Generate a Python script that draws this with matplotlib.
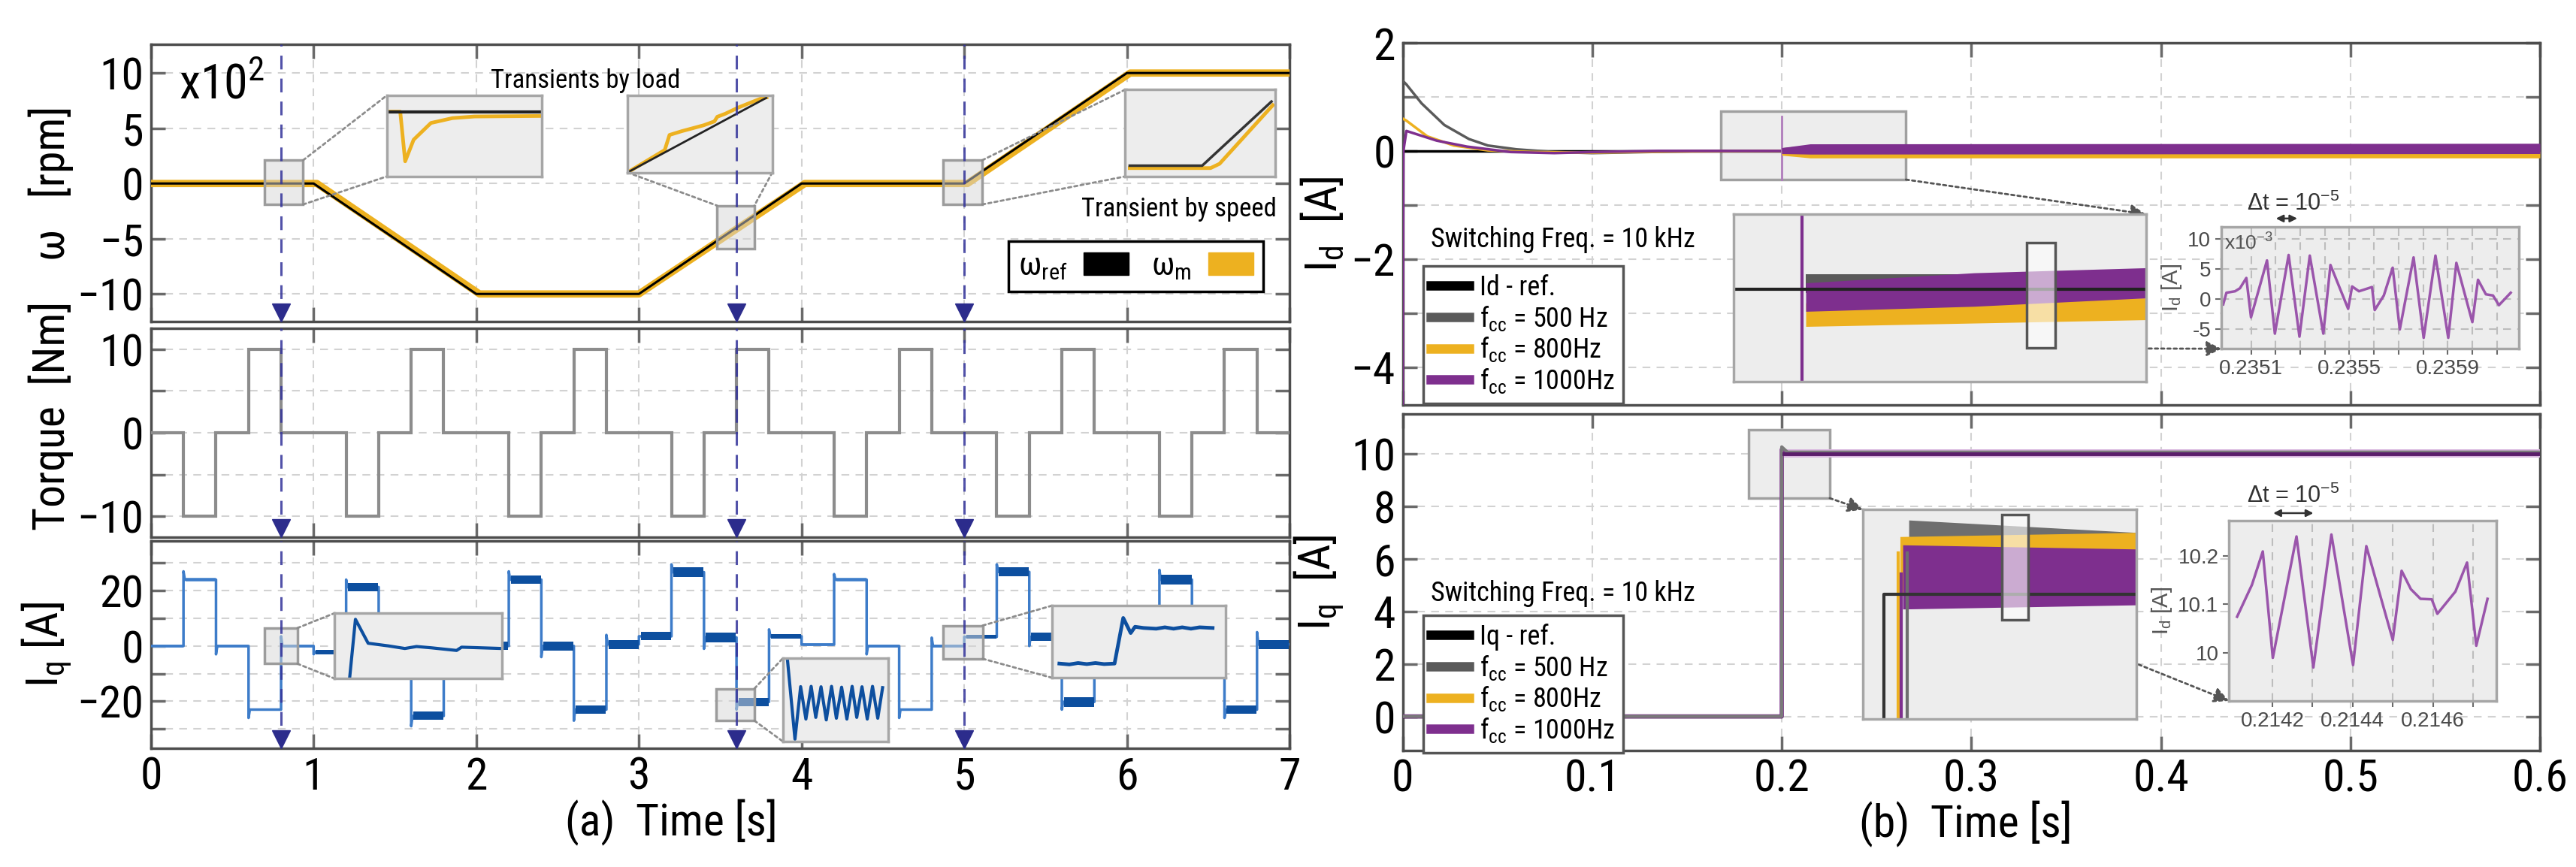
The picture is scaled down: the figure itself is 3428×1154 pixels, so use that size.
import numpy as np
import matplotlib
matplotlib.use("Agg")
import matplotlib.pyplot as plt
from matplotlib import font_manager
from matplotlib.patches import Rectangle, Patch
from matplotlib.lines import Line2D
from matplotlib.transforms import blended_transform_factory

names = {f.name for f in font_manager.fontManager.ttflist}
narrow = [n for n in ("Liberation Sans Narrow", "Roboto Condensed", "Open Sans Condensed", "Arial Narrow")
          if n in names]
if narrow:
    plt.rcParams["font.family"] = [narrow[0], "DejaVu Sans"]
    FS = 43
else:
    plt.rcParams["font.family"] = ["Liberation Sans", "DejaVu Sans"]
    FS = 38
plt.rcParams["mathtext.default"] = "regular"
SMALL = ["Liberation Sans", "DejaVu Sans"]

YEL, PUR, GRY = "#EDB120", "#7E2F8E", "#5a5a5a"
BLU, DBLU, LBLU = "#3d7cc9", "#0d4f9f", "#7aa8dc"
NAVY = "#34349a"

# ---------------- (a) speed / load torque / Iq, 0..7 s ----------------
w_t = [0, 1, 2, 3, 4, 5, 6, 7]
w_ref = [0, 0, -10, -10, 0, 0, 10, 10]          # x10^2 rpm
w_m_t = [0, 1.02, 2.02, 3.0, 4.02, 5.02, 6.02, 7]
w_m = [0, 0, -10, -10, 0, 0, 10, 10]

seg_t = [0.0, 0.2, 0.4, 0.6, 0.8, 1.0, 1.2, 1.4, 1.6, 1.8, 2.0, 2.2, 2.4, 2.6, 2.8,
         3.0, 3.2, 3.4, 3.6, 3.8, 4.0, 4.2, 4.4, 4.6, 4.8, 5.0, 5.2, 5.4, 5.6, 5.8,
         6.0, 6.2, 6.4, 6.6, 6.8, 7.0]
torque = [0, -10, 0, 10, 0, 0, -10, 0, 10, 0, 0, -10, 0, 10, 0, 0, -10, 0, 10, 0,
          0, -10, 0, 10, 0, 0, -10, 0, 10, 0, 0, -10, 0, 10, 0]
iq_level = [0, 24, 0, -23, 0, -2.2, 21.3, -2.5, -25.3, -2.5, 0, 24, 0, -23, 0.6,
            3.5, 26.7, 3.1, -20.2, 3.5, 0.5, 24, 0, -23, 0, 3.3, 26.8, 3.3, -20.2, 3.3,
            0, 24, 0, -23, 0.6]
iq_peak = [0, 27, -3, -26, 3.5, -3, 24, -5, -29, 1, 0, 27, -4, -27, 4,
           3.5, 29.5, -1, -23, 6, 0.5, 26, -3, -26, 3, 3.3, 29.5, 0, -23, 6,
           0, 27.5, -3, -26, 5]
iq_ripple = [1.0, 1.3, 1.0, 1.0, 1.0, 1.5, 3.0, 3.0, 3.0, 3.0, 3.0, 3.2, 3.2, 3.2, 3.2,
             3.0, 3.5, 3.5, 3.0, 1.5, 1.0, 1.3, 1.0, 1.0, 1.0, 1.5, 3.2, 3.0, 3.5, 3.0,
             3.0, 3.5, 3.0, 3.0, 3.2]
events = [0.8, 3.6, 5.0]

# zoomed details of (a)
z1_ref_t, z1_ref = [0.796, 0.84], [0, 0]
z1_t = [0.796, 0.7998, 0.8012, 0.8036, 0.8085, 0.8146, 0.8208, 0.84]
z1_w = [0.0, 0.0, -0.46, -0.26, -0.105, -0.06, -0.045, -0.04]
z2_ref_t, z2_ref = [3.55, 3.6458], [-4.5, -3.536]
z2_t = [3.55, 3.5757, 3.579, 3.5875, 3.6026, 3.61, 3.612, 3.6176, 3.6266, 3.642, 3.646]
z2_w = [-4.5, -4.21, -4.015, -3.966, -3.89, -3.84, -3.78, -3.74, -3.66, -3.545, -3.53]
z3_ref_t, z3_ref = [4.953, 5.0014, 5.0477], [0, 0, 0.477]
z3_t = [4.953, 5.007, 5.013, 5.0486]
z3_w = [-0.018, -0.018, 0.014, 0.45]
zA_t = [0.799, 0.8024, 0.81, 0.822, 0.832, 0.839, 0.848, 0.863, 0.866, 0.89]
zA_i = [-5.28, 5.22, 0.84, 0.36, -0.12, 0.24, 0.0, -0.48, 0.12, -0.12]
zB_t = [3.592, 3.5956, 3.5983, 3.6008, 3.6033, 3.6055, 3.608, 3.6105, 3.613, 3.6153,
        3.6178, 3.6203, 3.6228, 3.625, 3.6275, 3.63, 3.6325, 3.635, 3.6373]
zB_i = [-5.45, -34.1, -15.3, -26.9, -15.2, -26.3, -15.35, -27.2, -15.2, -26.6,
        -15.5, -26.9, -15.2, -26.3, -15.35, -26.9, -15.2, -26.6, -15.65]
zC_t = [4.9742, 4.98, 4.985, 4.99, 4.995, 5.0, 5.006, 5.011, 5.0153, 5.0178, 5.0227,
        5.03, 5.035, 5.04, 5.045, 5.05, 5.055, 5.0625]
zC_i = [0.0, -0.08, 0.05, -0.05, 0.05, -0.05, 0.0, 4.23, 2.83, 3.41, 3.3,
        3.23, 3.36, 3.23, 3.36, 3.23, 3.36, 3.3]

# ---------------- (b) Id / Iq, 0..0.6 s ----------------
id_ref_t, id_ref = [0, 0.6], [0, 0]
id_500_t = [0, 0.002, 0.01, 0.022, 0.035, 0.045, 0.06, 0.08, 0.1, 0.13, 0.16, 0.2]
id_500 = [1.3, 1.23, 0.88, 0.48, 0.22, 0.1, 0.03, -0.02, -0.04, -0.02, 0.0, 0.0]
id_800_t = [0, 0.002, 0.013, 0.027, 0.045, 0.068, 0.1, 0.14, 0.2]
id_800 = [0.6, 0.56, 0.27, 0.1, 0.01, -0.02, -0.03, -0.01, 0.0]
id_1000_t = [0, 0.0004, 0.002, 0.018, 0.034, 0.057, 0.08, 0.1, 0.135, 0.2]
id_1000 = [-4.8, 0.0, 0.37, 0.19, 0.08, -0.02, -0.04, -0.02, 0.0, 0.0]
id_spike_t, id_spike = [0.2, 0.2], [0.64, -0.53]
id_band_t = [0.2, 0.215, 0.6]
id_500_lo, id_500_hi = [-0.02, -0.02, -0.02], [0.06, 0.11, 0.12]
id_800_lo, id_800_hi = [-0.08, -0.13, -0.13], [0.0, 0.0, -0.01]
id_1000_lo, id_1000_hi = [-0.05, -0.06, -0.05], [0.06, 0.13, 0.14]

zd_t = [0.2005, 0.225, 0.25]
zd_500_lo, zd_500_hi = [-0.02, -0.02, -0.02], [0.09, 0.09, 0.09]
zd_800_lo, zd_800_hi = [-0.22, -0.2, -0.18], [-0.08, -0.06, -0.05]
zd_1000_lo, zd_1000_hi = [-0.13, -0.1, -0.05], [0.04, 0.1, 0.13]

fd_t = [0.234987, 0.235000, 0.235035, 0.235055, 0.235081, 0.235100, 0.235165, 0.235197,
        0.235253, 0.235297, 0.235339, 0.235394, 0.235423, 0.235495, 0.235511, 0.235539,
        0.235592, 0.235603, 0.235640, 0.235676, 0.235705, 0.235761, 0.235802, 0.235850,
        0.235902, 0.235935, 0.236000, 0.236023, 0.236055, 0.236084, 0.236108, 0.236156]
fd_i = [-0.87, 1.06, 1.3, 1.8, 3.5, -3.0, 6.4, -5.7, 7.3, -6.2, 7.2, -5.7, 5.65, -1.6,
        2.1, 1.3, 2.0, -1.8, 0.6, 5.2, -5.0, 6.9, -6.4, 7.2, -6.4, 6.0, -3.8, 3.2,
        0.8, 0.6, -1.0, 1.06]                     # x10^-3 A
fd_xticks = [0.2351, 0.2352, 0.2353, 0.2354, 0.2355, 0.2356, 0.2357, 0.2358, 0.2359, 0.2360, 0.2361]
fd_xlabels = ["0.2351", "", "", "", "0.2355", "", "", "", "0.2359", "", ""]

iq_ref_t, iq_ref = [0, 0.2, 0.2, 0.6], [0, 0, 10, 10]
iq_c_t = [0, 0.2, 0.2, 0.203, 0.6]
iq_500 = [0, 0, 10.25, 10.05, 10.05]
iq_800 = [0, 0, 10.2, 10.0, 10.0]
iq_1000 = [0, 0, 10.15, 10.0, 10.0]
iq_band_t, iq_band_lo, iq_band_hi = [0.201, 0.6], [9.85, 9.85], [10.15, 10.15]

zq_ref_t, zq_ref = [0.19962, 0.2, 0.2, 0.20462], [0, 0, 10, 10]
zq_500_t, zq_500 = [0.19962, 0.20043, 0.20043], [0, 0, 10.2]
zq_800_t, zq_800 = [0.19962, 0.20027, 0.20027], [0, 0, 10.2]
zq_1000_t, zq_1000 = [0.19962, 0.20032, 0.20032], [0, 0, 10.1]
zq_b500_t, zq_b500_lo, zq_b500_hi = [0.20046, 0.20462], [10.05, 10.05], [10.36, 10.3]
zq_b800_t, zq_b800_lo, zq_b800_hi = [0.2003, 0.20462], [10.0, 10.02], [10.28, 10.3]
zq_b1000_t, zq_b1000_lo, zq_b1000_hi = [0.20035, 0.20462], [9.93, 9.95], [10.24, 10.22]

fq_t = [0.214112, 0.214149, 0.214176, 0.214201, 0.214260, 0.214302, 0.214347, 0.214401,
        0.214434, 0.214470, 0.214500, 0.214522, 0.214545, 0.214569, 0.214597, 0.214611,
        0.214656, 0.214685, 0.214708, 0.214736]
fq_i = [10.074, 10.14, 10.209, 9.989, 10.24, 9.969, 10.244, 9.974, 10.22, 10.114,
        10.026, 10.169, 10.131, 10.111, 10.11, 10.08, 10.126, 10.186, 10.014, 10.111]
fq_xticks = [0.2142, 0.2143, 0.2144, 0.2145, 0.2146, 0.2147]
fq_xlabels = ["0.2142", "", "0.2144", "", "0.2146", ""]


def frame(ax):
    ax.grid(True, ls=(0, (5, 4)), color="#d2d2d2", lw=1.5)
    ax.tick_params(direction="in", length=14, width=2.5, color="#6a6a6a",
                   labelsize=FS, top=True, right=True, pad=7)
    for s in ax.spines.values():
        s.set_color("#4d4d4d")
        s.set_linewidth(2.5)
    ax.set_axisbelow(True)


def inset(ax, bounds):
    ia = ax.inset_axes(bounds, transform=ax.transData, zorder=8)
    ia.set_facecolor("#ededed")
    ia.set_xticks([])
    ia.set_yticks([])
    for s in ia.spines.values():
        s.set_color("#a6a6a6")
        s.set_linewidth(2.5)
    return ia


def zoom_box(ax, x, y, w, h, front=True):
    if front:
        ax.add_patch(Rectangle((x, y), w, h, fc=(0.84, 0.84, 0.84, 0.5), ec="#9c9c9c", lw=2.5, zorder=7))
    else:
        ax.add_patch(Rectangle((x, y), w, h, fc="#ededed", ec="#a0a0a0", lw=2.5, zorder=1))


def link(ax, p, q, head=False):
    ax.annotate("", xy=q, xytext=p, xycoords="data", textcoords="data",
                arrowprops=dict(arrowstyle="-|>" if head else "-", ls=(0, (1.5, 1.5)), lw=2,
                                color="#555555" if head else "#8c8c8c", shrinkA=0, shrinkB=0,
                                mutation_scale=30),
                annotation_clip=False, zorder=7)


def highlight(ia, x, y, w, h):
    ia.add_patch(Rectangle((x, y), w, h, transform=ia.transAxes, fc=(1, 1, 1, 0.6),
                           ec="#555555", lw=2.5, zorder=10))


fig = plt.figure(figsize=(34.28, 11.54), dpi=100)
L, W = 0.0586, 0.4420
ax_w = fig.add_axes([L, 0.6291, W, 0.3198])
ax_tq = fig.add_axes([L, 0.3804, W, 0.2409])
ax_iq = fig.add_axes([L, 0.1369, W, 0.2392])
ax_d = fig.add_axes([0.5445, 0.5329, 0.4415, 0.4177])
ax_q = fig.add_axes([0.5445, 0.1343, 0.4415, 0.3882])

for ax in (ax_w, ax_tq, ax_iq):
    frame(ax)
    ax.set_xlim(0, 7)
    ax.set_xticks(w_t)
for ax in (ax_w, ax_tq):
    ax.tick_params(labelbottom=False)

# ---- speed ----
ax_w.plot(w_m_t, w_m, color=YEL, lw=7, zorder=3)
ax_w.plot(w_t, w_ref, color="black", lw=2.2, zorder=4)
ax_w.set_ylim(-12.5, 12.6)
ax_w.set_yticks([-10, -5, 0, 5, 10])
ax_w.set_ylabel("ω   [rpm]", fontsize=FS)
ax_w.text(0.17, 8.9, "x10$^2$", fontsize=FS + 3, va="center")
ax_w.text(2.67, 9.3, "Transients by load", fontsize=25, ha="center", va="center")
ax_w.text(6.92, -2.3, "Transient by speed", fontsize=25, ha="right", va="center")

zoom_box(ax_w, 0.70, -1.9, 0.235, 4.0)
i1 = inset(ax_w, [1.45, 0.64, 0.955, 7.33])
i1.plot(z1_t, z1_w, color=YEL, lw=3.5)
i1.plot(z1_ref_t, z1_ref, color="#222222", lw=3)
i1.set_xlim(0.796, 0.84)
i1.set_ylim(-0.6, 0.15)
link(ax_w, (0.935, 2.1), (1.45, 7.97))
link(ax_w, (0.935, -1.9), (1.45, 0.64))

zoom_box(ax_w, 3.48, -5.9, 0.23, 3.9)
i2 = inset(ax_w, [2.93, 1.0, 0.89, 7.0])
i2.plot(z2_t, z2_w, color=YEL, lw=3.5)
i2.plot(z2_ref_t, z2_ref, color="#222222", lw=2)
i2.set_xlim(3.55, 3.65)
i2.set_ylim(-4.5, -3.5)
link(ax_w, (2.93, 1.0), (3.48, -2.0))
link(ax_w, (3.82, 1.0), (3.71, -2.0))

zoom_box(ax_w, 4.87, -1.9, 0.24, 4.0)
i3 = inset(ax_w, [5.99, 0.64, 0.92, 7.86])
i3.plot(z3_t, z3_w, color=YEL, lw=3.5)
i3.plot(z3_ref_t, z3_ref, color="#333333", lw=2.5)
i3.set_xlim(4.95, 5.05)
i3.set_ylim(-0.08, 0.566)
link(ax_w, (5.11, 2.1), (5.99, 8.5))
link(ax_w, (5.11, -1.9), (5.99, 0.64))

leg = ax_w.legend([Patch(fc="black", ec="black"), Patch(fc=YEL, ec=YEL)],
                  [r"$\omega_{ref}$", r"$\omega_{m}$"], ncol=2, markerfirst=False,
                  loc="center", bbox_to_anchor=(6.055, -7.48), bbox_transform=ax_w.transData,
                  fontsize=31, fancybox=False, edgecolor="black", framealpha=1,
                  handlelength=1.4, handleheight=0.7, columnspacing=0.7,
                  handletextpad=0.5, borderpad=0.3)
leg.get_frame().set_linewidth(2.5)
leg.set_zorder(12)

# ---- torque ----
ax_tq.stairs(torque, seg_t, color="#8c8c8c", lw=3, baseline=None, zorder=3)
ax_tq.set_ylim(-12.5, 12.5)
ax_tq.set_yticks([-10, -5, 0, 5, 10])
ax_tq.set_yticklabels(["−10", "", "0", "", "10"])
ax_tq.set_ylabel("Torque  [Nm]", fontsize=FS)

# ---- Iq ----
xs, ys = [seg_t[0]], [iq_level[0]]
for i in range(len(iq_level)):
    t0 = seg_t[i]
    prev = iq_level[i - 1] if i else iq_level[0]
    xs += [t0, t0, t0 + 0.008]
    ys += [prev, iq_peak[i], iq_level[i]]
xs.append(seg_t[-1])
ys.append(iq_level[-1])
ax_iq.plot(xs, ys, color=BLU, lw=2.5, zorder=3)
for i, r in enumerate(iq_ripple):
    dark = r >= 1.5
    ax_iq.fill_between([seg_t[i] + 0.012, seg_t[i + 1] - 0.003],
                       iq_level[i] - r / 2, iq_level[i] + r / 2,
                       color=DBLU if dark else LBLU, lw=0, zorder=4 if dark else 2)
ax_iq.set_ylim(-37, 38)
ax_iq.set_yticks([-30, -20, -10, 0, 10, 20, 30])
ax_iq.set_yticklabels(["", "−20", "", "0", "", "20", ""])
ax_iq.set_ylabel("$I_q$ [A]", fontsize=FS)
ax_iq.set_xlabel("(a)  Time [s]", fontsize=FS)

zoom_box(ax_iq, 0.70, -6.4, 0.20, 12.9)
iA = inset(ax_iq, [1.13, -11.8, 1.026, 23.7])
iA.plot(zA_t, zA_i, color=DBLU, lw=3)
iA.set_xlim(0.79, 0.89)
iA.set_ylim(-5.64, 6.36)
link(ax_iq, (0.90, 6.5), (1.13, 11.9))
link(ax_iq, (0.90, -6.4), (1.13, -11.8))

zoom_box(ax_iq, 3.475, -27, 0.235, 11.6)
iB = inset(ax_iq, [3.887, -34.6, 0.646, 30.3])
iB.plot(zB_t, zB_i, color=DBLU, lw=3)
iB.set_xlim(3.59, 3.64)
iB.set_ylim(-35, -5)
link(ax_iq, (3.71, -15.4), (3.887, -4.3))
link(ax_iq, (3.71, -27), (3.887, -34.6))

zoom_box(ax_iq, 4.87, -4.6, 0.243, 12.0)
iC = inset(ax_iq, [5.54, -11.5, 1.067, 26.1])
iC.plot(zC_t, zC_i, color=DBLU, lw=3.5)
iC.set_xlim(4.97, 5.07)
iC.set_ylim(-1.32, 5.37)
link(ax_iq, (5.113, 7.4), (5.54, 14.6))
link(ax_iq, (5.113, -4.6), (5.54, -11.5))

for ax in (ax_w, ax_tq, ax_iq):
    tr = blended_transform_factory(ax.transData, ax.transAxes)
    hpx = ax.get_position().height * 1154
    for t in events:
        ax.axvline(t, color=NAVY, ls=(0, (6, 4)), lw=2.2, zorder=9, alpha=0.85)
        ax.plot([t], [12 / hpx], marker="v", ms=17, color="#2c2c8c",
                transform=tr, clip_on=False, zorder=10)

ax_w.yaxis.set_label_coords(-0.068, 0.5)
ax_tq.yaxis.set_label_coords(-0.068, 0.58)
ax_iq.yaxis.set_label_coords(-0.068, 0.5)
ax_iq.xaxis.set_label_coords(0.457, -0.245)

# ---------------- (b) ----------------
cc_labels = ["$f_{cc}$ = 500 Hz", "$f_{cc}$ = 800Hz", "$f_{cc}$ = 1000Hz"]
handles = [Line2D([], [], color=c, lw=9) for c in ("black", GRY, YEL, PUR)]

for ax in (ax_d, ax_q):
    frame(ax)
    ax.set_xlim(0, 0.6)
    ax.set_xticks([0, 0.1, 0.2, 0.3, 0.4, 0.5, 0.6])
ax_d.tick_params(labelbottom=False)
ax_q.set_xticklabels(["0", "0.1", "0.2", "0.3", "0.4", "0.5", "0.6"])

# ---- Id ----
ax_d.plot(id_ref_t, id_ref, color="black", lw=2.5, zorder=3)
ax_d.plot(id_500_t, id_500, color=GRY, lw=2.5, zorder=4)
ax_d.plot(id_800_t, id_800, color=YEL, lw=2.5, zorder=4)
ax_d.plot(id_1000_t, id_1000, color=PUR, lw=2.5, zorder=4)
ax_d.plot(id_spike_t, id_spike, color="#b07cbb", lw=2, zorder=4)
ax_d.fill_between(id_band_t, id_500_lo, id_500_hi, color=GRY, lw=0, zorder=4)
ax_d.fill_between(id_band_t, id_800_lo, id_800_hi, color=YEL, lw=0, zorder=4)
ax_d.fill_between(id_band_t, id_1000_lo, id_1000_hi, color=PUR, lw=0, zorder=5)
ax_d.set_ylim(-4.7, 2.0)
ax_d.set_yticks([-4, -3, -2, -1, 0, 1, 2])
ax_d.set_yticklabels(["−4", "", "−2", "", "0", "", "2"])
ax_d.set_ylabel("$I_d$  [A]", fontsize=FS)
ax_d.text(0.015, -1.64, "Switching Freq. = 10 kHz", fontsize=26, va="center")
lg = ax_d.legend(handles, ["Id - ref."] + cc_labels, loc="upper left",
                 bbox_to_anchor=(0.0107, -2.13), bbox_transform=ax_d.transData,
                 borderaxespad=0, fontsize=26, fancybox=False, edgecolor="#555555",
                 framealpha=1, handlelength=1.4, labelspacing=0.1, borderpad=0.3,
                 handletextpad=0.4)
lg.get_frame().set_linewidth(2.5)

zoom_box(ax_d, 0.168, -0.53, 0.0975, 1.27, front=False)
iD = inset(ax_d, [0.1746, -4.27, 0.2176, 3.1])
iD.fill_between(zd_t, zd_500_lo, zd_500_hi, color=GRY, lw=0)
iD.fill_between(zd_t, zd_800_lo, zd_800_hi, color=YEL, lw=0)
iD.fill_between(zd_t, zd_1000_lo, zd_1000_hi, color=PUR, lw=0)
iD.plot([0.2, 0.2], [0.5, -0.6], color=PUR, lw=3)
iD.plot([0.19, 0.25], [0, 0], color="#222222", lw=3)
iD.set_xlim(0.19, 0.25)
iD.set_ylim(-0.55, 0.45)
highlight(iD, 0.711, 0.20, 0.068, 0.632)
link(ax_d, (0.2655, -0.53), (0.392, -1.17), head=True)
link(ax_d, (0.344, -3.65), (0.432, -3.66), head=True)

fD = ax_d.inset_axes([0.432, -3.66, 0.157, 2.25], transform=ax_d.transData, zorder=8)
fD.set_facecolor("#ededed")
fD.plot(fd_t, fd_i, color="#9a55ab", lw=2.5)
fD.set_xlim(0.23498, 0.23619)
fD.set_ylim(-8.2, 11.9)
fD.set_xticks(fd_xticks)
fD.set_xticklabels(fd_xlabels)
fD.set_yticks([-5, 0, 5, 10])
fD.set_yticklabels(["-5", "0", "5", "10"])
fD.text(0.01, 0.95, "x10$^{-3}$", transform=fD.transAxes, fontsize=19, color="#555555",
        va="top", family=SMALL)
fD.set_ylabel("$I_d$ [A]", fontsize=21, color="#555555", labelpad=4, family=SMALL)
ax_d.text(0.4698, -0.98, "Δt = 10$^{-5}$", fontsize=22, ha="center", va="center",
          color="#333333", family=SMALL)
ax_d.annotate("", xy=(0.472, -1.25), xytext=(0.4607, -1.25),
              arrowprops=dict(arrowstyle="<|-|>", lw=1.8, color="#333333", mutation_scale=14,
                              shrinkA=0, shrinkB=0))

# ---- Iq ----
ax_q.fill_between(iq_band_t, iq_band_lo, iq_band_hi, color="#d8b6de", lw=0, zorder=3)
ax_q.plot(iq_ref_t, iq_ref, color="black", lw=2.5, zorder=4)
ax_q.plot(iq_c_t, iq_800, color=YEL, lw=2.5, zorder=4)
ax_q.plot(iq_c_t, iq_1000, color=PUR, lw=4, zorder=5)
ax_q.plot(iq_c_t, iq_500, color="#7a7a7a", lw=3, zorder=5)
ax_q.plot(iq_band_t, [10, 10], color="#5b1e6b", lw=3.5, zorder=6)
ax_q.set_ylim(-1.3, 11.5)
ax_q.set_yticks([0, 2, 4, 6, 8, 10])
ax_q.set_ylabel("$I_q$  [A]", fontsize=FS)
ax_q.set_xlabel("(b)  Time [s]", fontsize=FS)
ax_q.text(0.015, 4.68, "Switching Freq. = 10 kHz", fontsize=26, va="center")
lg = ax_q.legend(handles, ["Iq - ref."] + cc_labels, loc="upper left",
                 bbox_to_anchor=(0.0107, 3.84), bbox_transform=ax_q.transData,
                 borderaxespad=0, fontsize=26, fancybox=False, edgecolor="#555555",
                 framealpha=1, handlelength=1.4, labelspacing=0.1, borderpad=0.3,
                 handletextpad=0.4)
lg.get_frame().set_linewidth(2.5)

zoom_box(ax_q, 0.1826, 8.3, 0.0427, 2.6, front=False)
iQ = inset(ax_q, [0.2428, -0.09, 0.1442, 7.95])
iQ.fill_between(zq_b500_t, zq_b500_lo, zq_b500_hi, color="#6e6e6e", lw=0)
iQ.fill_between(zq_b800_t, zq_b800_lo, zq_b800_hi, color=YEL, lw=0)
iQ.fill_between(zq_b1000_t, zq_b1000_lo, zq_b1000_hi, color=PUR, lw=0)
iQ.plot(zq_500_t, zq_500, color="#6e6e6e", lw=3)
iQ.plot(zq_800_t, zq_800, color=YEL, lw=3)
iQ.plot(zq_1000_t, zq_1000, color=PUR, lw=3)
iQ.plot(zq_ref_t, zq_ref, color="#333333", lw=3)
iQ.set_xlim(0.19962, 0.20462)
iQ.set_ylim(9.4, 10.41)
highlight(iQ, 0.509, 0.472, 0.096, 0.505)
link(ax_q, (0.2253, 8.3), (0.2428, 7.86), head=True)
link(ax_q, (0.330, 3.66), (0.436, 0.59), head=True)

fQ = ax_q.inset_axes([0.436, 0.59, 0.141, 6.86], transform=ax_q.transData, zorder=8)
fQ.set_facecolor("#ededed")
fQ.plot(fq_t, fq_i, color="#9a55ab", lw=2.5)
fQ.set_xlim(0.214092, 0.214758)
fQ.set_ylim(9.9, 10.273)
fQ.set_xticks(fq_xticks)
fQ.set_xticklabels(fq_xlabels)
fQ.set_yticks([10, 10.1, 10.2])
fQ.set_yticklabels(["10", "10.1", "10.2"])
fQ.set_ylabel("$I_d$ [A]", fontsize=21, color="#555555", labelpad=4, family=SMALL)
ax_q.text(0.47, 8.37, "Δt = 10$^{-5}$", fontsize=22, ha="center", va="center",
          color="#333333", family=SMALL)
ax_q.annotate("", xy=(0.4805, 7.73), xytext=(0.4593, 7.73),
              arrowprops=dict(arrowstyle="<|-|>", lw=1.8, color="#333333", mutation_scale=14,
                              shrinkA=0, shrinkB=0))

for fa in (fD, fQ):
    fa.grid(True, ls=(0, (5, 4)), color="#bdbdbd", lw=1.5)
    fa.tick_params(direction="out", length=6, width=1.5, color="#6a6a6a",
                   labelsize=20, labelcolor="#4a4a4a", pad=4)
    for lbl in fa.get_xticklabels() + fa.get_yticklabels():
        lbl.set_family(SMALL)
    for s in fa.spines.values():
        s.set_color("#a6a6a6")
        s.set_linewidth(2.5)
fQ.grid(False, axis="y")

ax_d.yaxis.set_label_coords(-0.05, 0.5)
ax_q.yaxis.set_label_coords(-0.05, 0.5)
ax_q.xaxis.set_label_coords(0.495, -0.15)

fig.savefig("out.png", dpi=100)
